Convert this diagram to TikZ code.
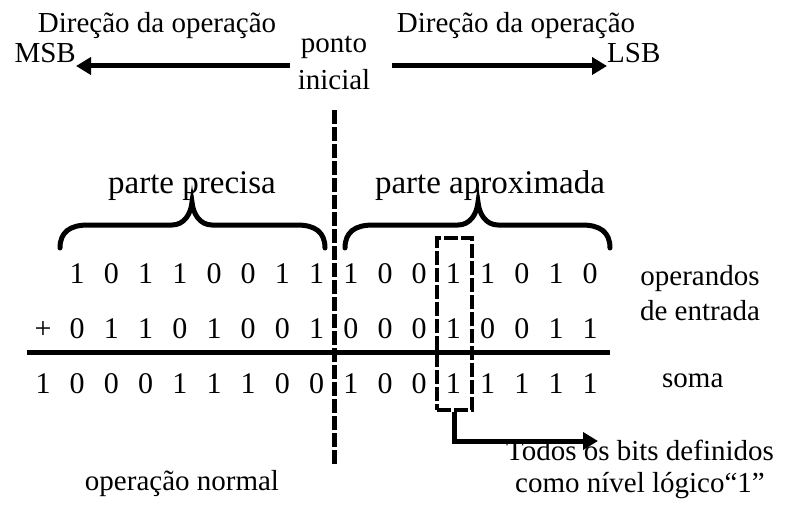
\documentclass[tikz,border=0pt]{standalone}
\usepackage{fontspec}
\setmainfont{Liberation Serif}
\usetikzlibrary{arrows.meta,positioning}
% chave horizontal: ponta esquerda, bico, ponta direita
\newcommand{\chave}[3]{%
  \draw[chave] (#1,248) .. controls (#1,232) and (#1+10,225) .. (#1+28,225)
    -- (#2-20,225) .. controls (#2-8,225) and (#2-1,214) .. (#2,202)
    .. controls (#2+1,214) and (#2+8,225) .. (#2+20,225)
    -- (#3-28,225) .. controls (#3-10,225) and (#3,232) .. (#3,248);}

\begin{document}
\begin{tikzpicture}[x=1pt,y=-1pt,
  lbl/.style={font=\fontsize{29}{34}\selectfont, inner sep=0pt},
  big/.style={font=\fontsize{33}{38}\selectfont, inner sep=0pt, anchor=base},
  bit/.style={font=\fontsize{30}{34}\selectfont, inner sep=0pt, anchor=base},
  seta/.style={line width=5pt, -{Triangle[length=15pt,width=17pt]}},
  chave/.style={line width=5pt, line cap=round},
  corte/.style={line width=5pt, dash pattern=on 14pt off 3pt}]
  \useasboundingbox (0,0) rectangle (785,511);

  % direcao da operacao
  \node[lbl, anchor=base] (dir1) at (157,33) {Direção da operação};
  \node[lbl, anchor=base] (dir2) at (516,33) {Direção da operação};
  \node[lbl, anchor=base east] (msb) at (76,63) {MSB};
  \node[lbl, anchor=base west] (lsb) at (607,63) {LSB};
  \node[lbl, anchor=base, align=center, font=\fontsize{29}{37}\selectfont] (ini) at (334,90) {ponto\\inicial};
  \coordinate (esq) at (290,66);
  \coordinate (dir) at (392,66);
  \draw[seta] (esq) -- (msb.east |- esq);
  \draw[seta] (dir) -- (lsb.west |- dir);

  % linha de corte
  \draw[corte] (334,110) -- (334,465);

  % chaves
  \chave{60}{192}{325}
  \chave{345}{478}{610}
  \node[big] (prec) at (192,193) {parte precisa};
  \node[big] (aprox) at (490,193) {parte aproximada};

  % operandos e soma
  \foreach \b [count=\i from 2] in {1,0,1,1,0,0,1,1,1,0,0,1,1,0,1,0}
    \node[bit] (a\i) at ({43+(\i-1)*34.2},283) {\b};
  \node[bit] (mais) at (43,338) {+};
  \foreach \b [count=\i from 2] in {0,1,1,0,1,0,0,1,0,0,0,1,0,0,1,1}
    \node[bit] (b\i) at ({43+(\i-1)*34.2},338) {\b};
  \draw[line width=5pt] (27,352) -- (610,352);
  \foreach \b [count=\i] in {1,0,0,0,1,1,1,0,0,1,0,0,1,1,1,1,1}
    \node[bit] (s\i) at ({43+(\i-1)*34.2},393) {\b};

  \node[lbl, anchor=base, align=center, font=\fontsize{29}{35}\selectfont] (oper) at (700,320) {operandos\\de entrada};
  \node[lbl, anchor=base west] (soma) at (662,387) {soma};

  % bit forcado em 1
  \node[draw, corte, line width=4pt, minimum width=35pt, minimum height=172pt, inner sep=0pt] (marca) at (454.5,324) {};
  \coordinate (fim) at (598,441);
  \draw[seta] (marca.south) |- (fim);
  \node[lbl, anchor=base, align=center, font=\fontsize{29}{32}\selectfont] (todos) at (640,492) {Todos os bits definidos\\como nível lógico“1”};

  \node[lbl, anchor=base] (normal) at (182,490) {operação normal};
\end{tikzpicture}
\end{document}
